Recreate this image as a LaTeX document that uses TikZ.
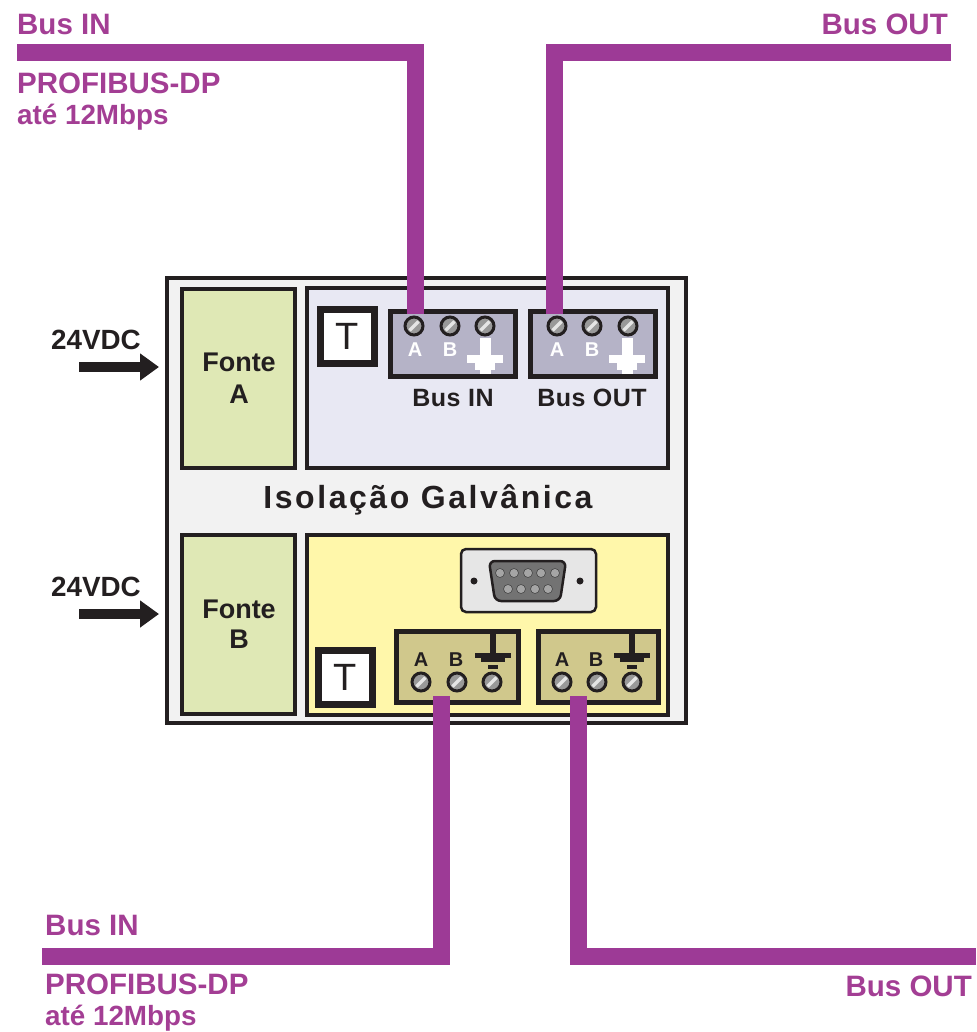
\documentclass[tikz,border=0pt]{standalone}
\usepackage{fontspec}
\setmainfont{Liberation Sans}
\usetikzlibrary{arrows.meta}
\definecolor{wirec}{RGB}{157,58,150}
\definecolor{labc}{RGB}{163,62,148}
\definecolor{inkc}{RGB}{35,31,32}
\definecolor{outerc}{RGB}{242,242,242}
\definecolor{topc}{RGB}{232,232,243}
\definecolor{yelc}{RGB}{255,247,170}
\definecolor{fontc}{RGB}{223,232,181}
\definecolor{grayconn}{RGB}{181,179,199}
\definecolor{olivec}{RGB}{208,200,140}
\definecolor{platec}{RGB}{230,230,230}
\definecolor{shellc}{RGB}{115,115,115}
\definecolor{pinc}{RGB}{165,165,165}
\newcommand{\fs}[1]{\fontsize{#1}{#1}\selectfont}
\newcommand{\bx}[6]{%
  \pgfmathsetmacro{\bw}{#4-#2}\pgfmathsetmacro{\bh}{#5-#3}%
  \pgfmathsetmacro{\cx}{(#2+#4)/2}\pgfmathsetmacro{\cy}{(#3+#5)/2}%
  \node[#6,minimum width=\bw pt,minimum height=\bh pt] (#1) at (\cx,\cy) {};}
\newcommand{\screw}[3]{%
  \node[screwn] (#1) at (#2,#3) {};
  \draw[white!80!gray,line width=3.5pt] ([shift={(-4.5,4.5)}]#1.center) -- ([shift={(4.5,-4.5)}]#1.center);}
\tikzset{
  frame/.style={draw=inkc,line width=4pt,inner sep=0pt,outer sep=0pt,rectangle},
  tbox/.style={draw=inkc,line width=7pt,fill=white,inner sep=0pt,rectangle},
  conn/.style={draw=inkc,line width=5pt,inner sep=0pt,rectangle},
  wire/.style={draw=wirec,line width=17pt,line join=miter},
  screwn/.style={circle,draw=inkc,line width=3pt,fill=gray!80!white,minimum size=18pt,inner sep=0pt},
  buslab/.style={text=labc,font=\bfseries\fs{29.5},inner sep=0pt},
  ratelab/.style={text=labc,font=\bfseries\fs{27.8},inner sep=0pt},
  blk/.style={text=inkc,font=\bfseries\fs{27},inner sep=0pt},
  power/.style={draw=inkc,line width=10pt,-{Triangle[length=19pt,width=26pt]}},
  pinn/.style={circle,fill=pinc,draw=shellc!60!black,line width=.6pt,minimum size=9pt,inner sep=0pt},
  mnt/.style={circle,fill=inkc,minimum size=7pt,inner sep=0pt}
}
\begin{document}
\begin{tikzpicture}[x=1pt,y=-1pt]
\useasboundingbox (0,0) rectangle (976,1032);
% housing
\bx{housing}{167}{278}{686}{723}{frame,fill=outerc}
\bx{fonteA}{182}{289}{295}{468}{frame,fill=fontc}
\bx{fonteB}{182}{535}{295}{714}{frame,fill=fontc}
\bx{panelT}{307}{288}{668}{468}{frame,fill=topc}
\bx{panelB}{307}{535}{668}{715}{frame,fill=yelc}
\node[blk] (lfa1) at (239,362) {Fonte};
\node[blk] (lfa2) at (239,394) {A};
\node[blk] (lfb1) at (239,609) {Fonte};
\node[blk] (lfb2) at (239,639) {B};
\node[text=inkc,font=\bfseries\fs{32},inner sep=0pt] (iso) at (428,500) {\addfontfeatures{LetterSpace=8}Isolação Galvânica};
% T boxes
\bx{tT}{320.5}{309.5}{374.5}{363.5}{tbox}
\bx{tB}{318.5}{650.5}{372.5}{704.5}{tbox}
\node[text=inkc,font=\fs{38},inner sep=0pt] (tTl) at (tT) {T};
\node[text=inkc,font=\fs{38},inner sep=0pt] (tBl) at (tB) {T};
% top connectors
\bx{c1}{390.5}{311.5}{515.5}{376.5}{conn,fill=grayconn}
\bx{c2}{530.5}{311.5}{655.5}{376.5}{conn,fill=grayconn}
% bottom connectors
\bx{c3}{396.5}{631.5}{518.5}{702.5}{conn,fill=olivec}
\bx{c4}{538.5}{631.5}{658.5}{702.5}{conn,fill=olivec}
% wires
\coordinate (w1s) at (17,53);
\coordinate (w1c) at (415,53);
\coordinate (w1e) at (415,314);
\coordinate (w2s) at (951,53);
\coordinate (w2c) at (554,53);
\coordinate (w2e) at (554,314);
\coordinate (w3s) at (42,956);
\coordinate (w3c) at (441,956);
\coordinate (w3e) at (441,696);
\coordinate (w4s) at (976,956);
\coordinate (w4c) at (578,956);
\coordinate (w4e) at (578,696);
\draw[wire] (w1s) -- (w1c) -- (w1e);
\draw[wire] (w2s) -- (w2c) -- (w2e);
\draw[wire] (w3s) -- (w3c) -- (w3e);
\draw[wire] (w4s) -- (w4c) -- (w4e);
% screws
\screw{s1}{414}{326}\screw{s2}{450}{326}\screw{s3}{485}{326}
\screw{s4}{557}{326}\screw{s5}{592}{326}\screw{s6}{628}{326}
\screw{s7}{421}{682}\screw{s8}{457}{682}\screw{s9}{492}{682}
\screw{s10}{562}{682}\screw{s11}{597}{682}\screw{s12}{632}{682}
% top connector letters and white grounds
\node[text=white,font=\bfseries\fs{20},inner sep=0pt] (la1) at (415,350) {A};
\node[text=white,font=\bfseries\fs{20},inner sep=0pt] (lb1) at (450,350) {B};
\node[text=white,font=\bfseries\fs{20},inner sep=0pt] (la2) at (557,350) {A};
\node[text=white,font=\bfseries\fs{20},inner sep=0pt] (lb2) at (592,350) {B};
\foreach \gx in {485,627}{
  \fill[white] (\gx-5,338) rectangle (\gx+6,355);
  \fill[white] (\gx-18,355) rectangle (\gx+18,363);
  \fill[white] (\gx-10,363) rectangle (\gx+10,370);
  \fill[white] (\gx-5,370) rectangle (\gx+6,374);
}
% bottom connector letters and grounds
\node[text=inkc,font=\bfseries\fs{20},inner sep=0pt] (la3) at (421,660) {A};
\node[text=inkc,font=\bfseries\fs{20},inner sep=0pt] (lb3) at (456,660) {B};
\node[text=inkc,font=\bfseries\fs{20},inner sep=0pt] (la4) at (562,660) {A};
\node[text=inkc,font=\bfseries\fs{20},inner sep=0pt] (lb4) at (596,660) {B};
\foreach \gx in {493,632}{
  \fill[inkc] (\gx-3,633) rectangle (\gx+3,655);
  \fill[inkc] (\gx-18,653) rectangle (\gx+18,658);
  \fill[inkc] (\gx-12,658) rectangle (\gx+12,662);
  \fill[inkc] (\gx-5,665) rectangle (\gx+5,669);
}
% top labels
\node[blk,font=\bfseries\fs{25}] (lin) at (453,398) {\addfontfeatures{LetterSpace=2}Bus IN};
\node[blk,font=\bfseries\fs{25}] (lout) at (592,398) {\addfontfeatures{LetterSpace=2}Bus OUT};
% DB9
\node[draw=inkc,line width=2.5pt,fill=platec,rounded corners=5pt,minimum width=135pt,minimum height=63pt,inner sep=0pt] (db) at (528.5,580.5) {};
\draw[inkc,line width=2.5pt,fill=shellc,rounded corners=6pt] (489,561) -- (566,561) -- (560,601) -- (495,601) -- cycle;
\node[mnt] (m1) at (474,581) {};
\node[mnt] (m2) at (580,581) {};
\foreach \px/\nm in {500/p1,514/p2,528/p3,541/p4,555/p5}{\node[pinn] (\nm) at (\px,573) {};}
\foreach \px/\nm in {508/p6,521/p7,535/p8,548/p9}{\node[pinn] (\nm) at (\px,589) {};}
% power arrows
\coordinate (a1s) at (79,367); \coordinate (a1e) at (159,367);
\coordinate (a2s) at (79,614); \coordinate (a2e) at (159,614);
\draw[power] (a1s) -- (a1e);
\draw[power] (a2s) -- (a2e);
\node[blk,font=\bfseries\fs{27.8}] (v1) at (96,340) {24VDC};
\node[blk,font=\bfseries\fs{27.8}] (v2) at (96,587) {24VDC};
% bus labels
\node[buslab,anchor=west] (t1) at (17,24) {Bus IN};
\node[buslab,anchor=east] (t2) at (948,24) {Bus OUT};
\node[buslab,anchor=west] (t3) at (17,83) {PROFIBUS-DP};
\node[ratelab,anchor=west] (t4) at (17,117) {até 12Mbps};
\node[buslab,anchor=west] (t5) at (45,925) {Bus IN};
\node[buslab,anchor=east] (t6) at (972,986) {Bus OUT};
\node[buslab,anchor=west] (t7) at (45,984) {PROFIBUS-DP};
\node[ratelab,anchor=west] (t8) at (45,1018) {até 12Mbps};
\end{tikzpicture}
\end{document}
